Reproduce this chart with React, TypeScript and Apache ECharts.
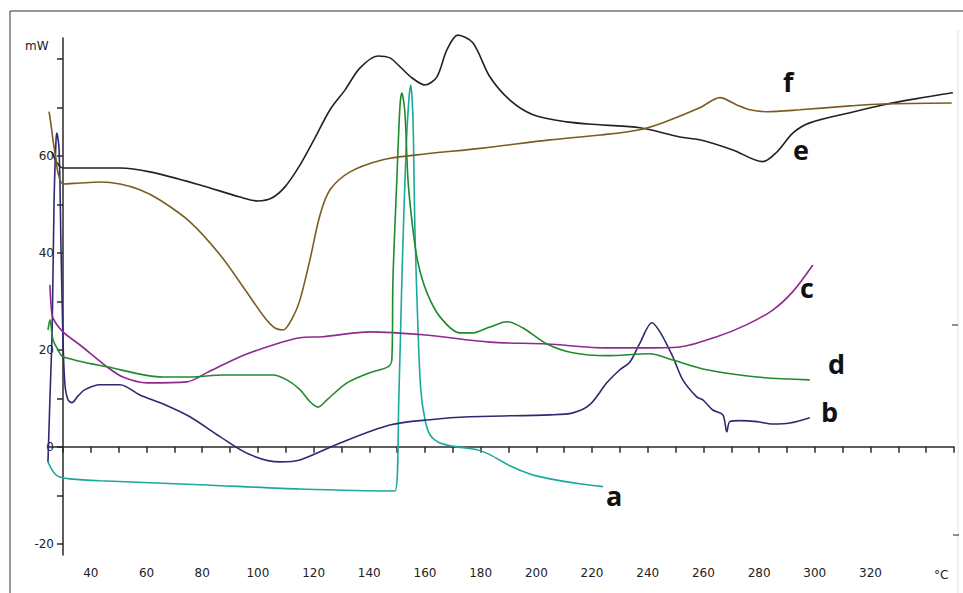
import React, { useEffect, useRef } from "react";
import * as echarts from "echarts";

// Temperature (°C) / heat flow (mW) pairs
const curveA: [number, number][] = [
  [24.6, -3.1], [26.0, -4.7], [27.5, -5.8], [28.9, -6.2], [32.5, -6.6], [43.3, -7.0], [79.2, -7.8],
  [115.1, -8.7], [149.2, -9.1], [150.6, 9.7], [151.7, 34.4], [153.2, 61.2], [154.2, 71.5], [154.9, 74.6],
  [155.7, 67.4], [156.4, 44.7], [157.5, 24.1], [158.5, 11.8], [160.0, 5.6], [161.8, 2.5], [165.4, 0.8],
  [171.5, 0.0], [178.7, -0.6], [183.3, -1.6], [190.5, -3.9], [197.7, -5.6], [204.9, -6.6], [215.6, -7.6],
  [223.9, -8.2],
];
const curveB: [number, number][] = [
  [24.6, -3.1], [25.3, 9.7], [26.1, 24.1], [26.8, 50.9], [27.5, 63.3], [27.8, 64.7], [28.6, 61.2],
  [29.3, 40.6], [30.0, 22.1], [30.7, 12.8], [31.8, 9.7], [33.2, 9.1], [35.4, 10.5], [37.9, 11.8],
  [43.3, 12.8], [50.5, 12.8], [57.6, 10.7], [66.6, 8.7], [75.6, 6.2], [86.4, 2.1], [97.1, -1.6],
  [107.9, -3.1], [115.1, -2.7], [129.5, 0.8], [147.4, 4.5], [161.8, 5.6], [176.1, 6.2], [204.9, 6.6],
  [213.1, 7.0], [219.2, 8.7], [225.3, 13.2], [230.0, 15.9], [233.6, 17.5], [237.2, 21.4], [241.5, 25.6],
  [244.4, 23.7], [249.0, 18.6], [252.6, 13.8], [257.6, 10.3], [259.8, 9.7], [263.4, 7.6], [267.0, 6.6],
  [268.4, 3.1], [269.5, 5.2], [273.1, 5.4], [279.2, 5.2], [284.9, 4.7], [291.0, 4.9], [298.2, 6.0],
];
const curveC: [number, number][] = [
  [25.3, 33.4], [25.7, 29.3], [26.4, 26.6], [30.0, 23.7], [36.1, 21.0], [45.8, 16.5], [51.5, 14.4],
  [60.2, 13.2], [74.5, 13.4], [81.7, 15.3], [93.6, 18.6], [105.4, 21.0], [115.1, 22.5], [123.4, 22.7],
  [140.2, 23.7], [159.3, 23.1], [183.3, 21.6], [203.8, 21.2], [225.3, 20.4], [237.2, 20.4], [251.5, 20.6],
  [264.8, 22.7], [275.6, 25.2], [284.9, 28.2], [292.1, 32.0], [299.3, 37.5],
];
const curveD: [number, number][] = [
  [24.6, 24.1], [25.3, 26.2], [26.4, 22.1], [28.2, 20.0], [30.0, 18.6], [45.8, 16.5], [65.9, 14.4],
  [75.6, 14.4], [87.5, 14.8], [105.4, 14.8], [110.4, 13.8], [115.1, 11.8], [118.7, 9.3], [121.6, 8.2],
  [124.8, 9.7], [132.0, 13.2], [140.2, 15.3], [146.7, 16.5], [148.1, 17.9], [148.5, 34.4], [149.9, 55.1],
  [151.0, 70.1], [151.7, 73.0], [152.8, 68.9], [153.9, 55.1], [155.7, 44.7], [157.5, 37.9], [160.7, 31.8],
  [165.4, 26.8], [172.5, 23.5], [177.2, 23.5], [183.3, 24.7], [189.4, 25.8], [195.2, 24.5], [203.8, 21.2],
  [213.1, 19.4], [225.3, 18.8], [240.8, 19.2], [249.0, 17.9], [261.2, 15.9], [279.2, 14.4], [298.2, 13.8],
];
const curveE: [number, number][] = [
  [26.1, 60.8], [27.8, 58.6], [30.0, 57.5], [36.1, 57.5], [50.5, 57.5], [61.2, 56.7], [79.2, 54.0],
  [93.6, 51.5], [100.0, 50.7], [105.0, 51.3], [109.7, 53.6], [115.1, 58.1], [120.5, 63.7], [125.9, 69.5],
  [131.3, 73.6], [136.6, 78.1], [143.1, 80.6], [147.4, 80.2], [151.0, 78.4], [155.3, 76.1], [160.0, 74.6],
  [164.3, 76.3], [167.9, 81.9], [171.8, 84.9], [177.2, 83.3], [183.3, 76.3], [190.5, 71.5], [198.8, 68.5],
  [211.0, 67.0], [222.8, 66.4], [237.2, 65.8], [251.5, 63.9], [258.7, 63.3], [270.6, 61.2], [281.3, 58.8],
  [286.4, 60.8], [292.1, 64.7], [298.2, 66.8], [312.6, 68.9], [324.4, 70.5], [336.6, 71.8], [349.6, 73.0],
];
const curveF: [number, number][] = [
  [25.0, 69.1], [25.7, 66.4], [26.4, 63.3], [27.5, 59.2], [28.2, 56.5], [30.0, 54.2], [36.1, 54.4],
  [43.3, 54.6], [50.5, 54.2], [57.6, 53.0], [64.8, 50.9], [75.6, 46.4], [86.4, 39.6], [95.4, 32.4],
  [102.5, 26.6], [106.1, 24.5], [109.0, 24.1], [112.6, 26.8], [115.1, 30.3], [118.7, 38.6], [122.3, 47.8],
  [125.9, 53.0], [133.1, 56.7], [144.9, 59.2], [157.1, 60.2], [180.8, 61.6], [204.9, 63.3], [222.8, 64.3],
  [237.2, 65.4], [246.2, 67.0], [258.7, 69.9], [265.9, 72.0], [272.0, 70.5], [276.7, 69.5], [282.8, 69.1],
  [294.6, 69.5], [312.6, 70.3], [324.4, 70.7], [349.2, 70.9],
];

const xTickValues = [30, 40, 50, 60, 70, 80, 90, 100, 110, 120, 130, 140, 150, 160, 170, 180, 190, 200, 210, 220, 230, 240, 250, 260, 270, 280, 290, 300, 310, 320, 330, 340, 350];
const xLabelValues = [40, 60, 80, 100, 120, 140, 160, 180, 200, 220, 240, 260, 280, 300, 320];
const yTickValues = [-20, -10, 0, 10, 20, 30, 40, 50, 60, 70, 80];
const yLabelValues = [-20, 0, 20, 40, 60];

const seriesNames = ["a", "b", "c", "d", "e", "f"];
const seriesColors = ["#1ba89c", "#2d2a72", "#8e2a8e", "#1f8a2e", "#222222", "#7a5c22"];

export default function App() {
  const ref = useRef<HTMLDivElement>(null);
  useEffect(() => {
    if (!ref.current) return;
    const chart = echarts.init(ref.current, null, { renderer: "svg" });
    const curves = [curveA, curveB, curveC, curveD, curveE, curveF];
    const letterFont = { fontFamily: "Open Sans", fontWeight: "bold" as const, fontSize: 27, fill: "#111" };
    // x axis spans 24.5..350 °C; the y axis line is drawn at 30 °C
    const gridLeft = 63 - 5.5 * (891 / 320);
    chart.setOption({
      animation: false,
      backgroundColor: "#ffffff",
      grid: { left: gridLeft, right: 9, top: 38, bottom: 38 },
      xAxis: {
        type: "value",
        min: 24.5,
        max: 350,
        axisLine: { lineStyle: { color: "#2a2a2a", width: 1.5 } },
        axisTick: { customValues: xTickValues, length: 6, lineStyle: { color: "#2a2a2a", width: 1.5 } },
        axisLabel: { customValues: xLabelValues, margin: 12, color: "#222", fontFamily: "DejaVu Sans", fontSize: 12 },
        splitLine: { show: false },
      },
      yAxis: {
        type: "value",
        min: -22.3,
        max: 84.3,
        offset: -(63 - gridLeft),
        axisLine: { show: true, onZero: false, lineStyle: { color: "#2a2a2a", width: 1.5 } },
        axisTick: { show: true, customValues: yTickValues, length: 6, lineStyle: { color: "#2a2a2a", width: 1.5 } },
        axisLabel: { customValues: yLabelValues, margin: 9, color: "#222", fontFamily: "DejaVu Sans", fontSize: 12 },
        splitLine: { show: false },
      },
      series: curves.map((d, i) => ({
        name: seriesNames[i],
        type: "line",
        data: d,
        showSymbol: false,
        smooth: 0.3,
        clip: false,
        lineStyle: { color: seriesColors[i], width: 1.6 },
        z: 3,
      })),
      graphic: [
        { type: "line", shape: { x1: 10, y1: 11, x2: 963, y2: 11 }, style: { stroke: "#333", lineWidth: 1.2 } },
        { type: "line", shape: { x1: 10, y1: 11, x2: 10, y2: 593 }, style: { stroke: "#555", lineWidth: 1.2 } },
        { type: "line", shape: { x1: 958, y1: 30, x2: 958, y2: 593 }, style: { stroke: "#e2e2e2", lineWidth: 1 } },
        { type: "line", shape: { x1: 952, y1: 325, x2: 958, y2: 325 }, style: { stroke: "#444", lineWidth: 1.2 } },
        { type: "line", shape: { x1: 953, y1: 535, x2: 959, y2: 535 }, style: { stroke: "#444", lineWidth: 1.2 } },
        { type: "text", x: 25, y: 40, style: { text: "mW", fontFamily: "DejaVu Sans", fontSize: 12, fill: "#222" } },
        { type: "text", x: 934, y: 569, style: { text: "°C", fontFamily: "DejaVu Sans", fontSize: 12, fill: "#222" } },
        { type: "text", x: 783, y: 68, style: { text: "f", ...letterFont } },
        { type: "text", x: 793, y: 136, style: { text: "e", ...letterFont } },
        { type: "text", x: 800, y: 274, style: { text: "c", ...letterFont } },
        { type: "text", x: 828, y: 350, style: { text: "d", ...letterFont } },
        { type: "text", x: 821, y: 398, style: { text: "b", ...letterFont } },
        { type: "text", x: 606, y: 482, style: { text: "a", ...letterFont } },
      ],
    });
    return () => chart.dispose();
  }, []);
  return (
    <div
      ref={ref}
      style={{ position: "absolute", left: 0, top: 0, width: 963, height: 593, background: "#fff" }}
    />
  );
}
